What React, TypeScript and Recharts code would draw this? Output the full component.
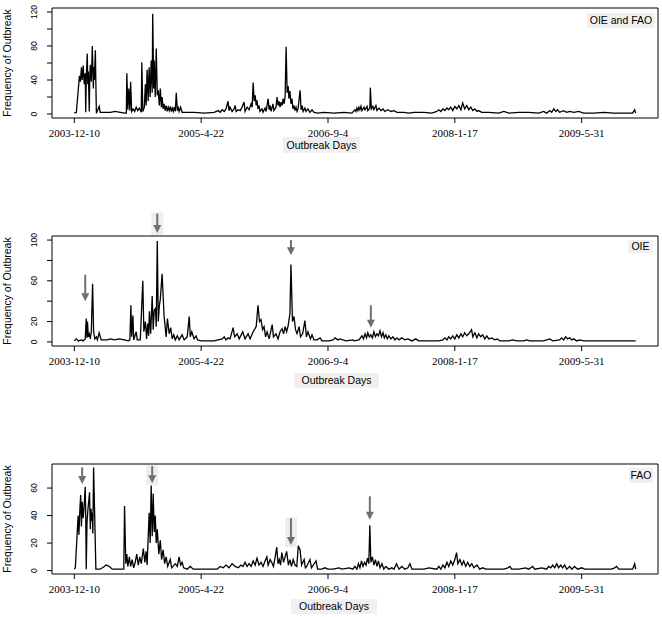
import React from 'react';
import { LineChart, Line, XAxis, YAxis, ReferenceArea, ReferenceLine, Customized } from 'recharts';

// day index since 2003-12-10, daily outbreak counts
const bothDays = [0, 8, 16, 20, 24, 28, 31, 35, 39, 43, 45, 47, 51, 53, 55, 59, 61, 63, 67, 71, 75, 77, 79, 83, 85, 87, 98, 102, 142, 161, 181, 201, 205, 207, 211, 215, 219, 222, 226, 232, 238, 244, 250, 256, 264, 266, 270, 276, 280, 283, 287, 291, 295, 299, 303, 307, 309, 313, 315, 319, 323, 327, 331, 335, 339, 343, 346, 350, 354, 358, 362, 366, 370, 374, 378, 382, 386, 390, 394, 398, 402, 406, 409, 413, 419, 425, 433, 472, 512, 551, 567, 575, 583, 591, 598, 606, 610, 614, 622, 630, 634, 638, 646, 654, 661, 669, 673, 681, 689, 697, 701, 705, 709, 713, 717, 720, 724, 728, 732, 740, 744, 752, 756, 764, 768, 772, 776, 783, 787, 795, 799, 803, 807, 811, 815, 819, 823, 827, 831, 835, 839, 843, 846, 850, 854, 858, 862, 866, 870, 874, 878, 882, 890, 894, 898, 902, 909, 913, 921, 929, 937, 945, 961, 984, 1024, 1063, 1094, 1106, 1110, 1114, 1118, 1122, 1126, 1130, 1134, 1142, 1146, 1154, 1157, 1165, 1167, 1171, 1177, 1181, 1189, 1193, 1201, 1209, 1217, 1224, 1236, 1248, 1260, 1272, 1299, 1319, 1339, 1378, 1409, 1429, 1437, 1445, 1453, 1461, 1469, 1476, 1484, 1492, 1500, 1508, 1516, 1524, 1531, 1539, 1547, 1555, 1563, 1571, 1579, 1587, 1594, 1606, 1634, 1673, 1693, 1713, 1752, 1791, 1831, 1850, 1862, 1874, 1882, 1890, 1898, 1905, 1913, 1929, 1941, 1953, 1969, 1988, 2008, 2047, 2087, 2126, 2165, 2201, 2209, 2213];
const bothCounts = [1, 2, 30, 45, 38, 55, 40, 57, 35, 48, 2, 40, 71, 35, 50, 3, 45, 58, 38, 80, 30, 55, 40, 75, 35, 1, 9, 2, 2, 3, 2, 1, 1, 48, 5, 30, 4, 38, 3, 6, 3, 8, 4, 7, 2, 61, 3, 8, 35, 10, 52, 15, 55, 20, 63, 25, 118, 30, 63, 20, 77, 22, 28, 10, 30, 8, 20, 6, 12, 4, 10, 3, 8, 4, 9, 3, 7, 3, 8, 3, 25, 4, 9, 3, 8, 2, 2, 2, 1, 2, 4, 2, 5, 3, 6, 15, 4, 8, 3, 6, 10, 3, 5, 4, 8, 14, 3, 8, 5, 12, 8, 37, 15, 22, 10, 16, 6, 10, 3, 6, 2, 7, 3, 18, 5, 10, 3, 12, 4, 8, 20, 10, 15, 8, 14, 10, 18, 12, 20, 79, 25, 33, 18, 27, 12, 18, 6, 10, 4, 8, 3, 6, 28, 5, 10, 3, 7, 3, 6, 2, 5, 2, 1, 2, 1, 2, 1, 5, 3, 7, 4, 8, 5, 9, 4, 8, 5, 9, 4, 7, 31, 6, 9, 5, 10, 4, 7, 4, 6, 3, 5, 3, 4, 2, 2, 1, 2, 2, 1, 3, 5, 3, 6, 4, 7, 5, 8, 4, 9, 6, 10, 5, 13, 6, 10, 5, 8, 4, 6, 3, 4, 2, 2, 1, 3, 1, 2, 2, 1, 3, 1, 4, 2, 6, 3, 5, 2, 4, 2, 3, 2, 3, 1, 1, 2, 1, 1, 1, 5, 1];

const oieDays = [0, 8, 16, 28, 35, 43, 47, 50, 52, 55, 59, 63, 67, 72, 76, 81, 87, 91, 98, 106, 130, 142, 157, 177, 197, 213, 219, 223, 226, 231, 234, 244, 248, 260, 270, 274, 280, 285, 289, 293, 296, 301, 307, 311, 315, 320, 323, 327, 331, 335, 339, 346, 354, 362, 367, 374, 380, 386, 392, 398, 406, 413, 425, 433, 445, 453, 457, 463, 472, 480, 486, 500, 551, 583, 591, 598, 606, 614, 626, 632, 642, 650, 664, 673, 685, 693, 705, 717, 724, 730, 736, 742, 748, 754, 760, 768, 780, 785, 795, 803, 811, 819, 825, 831, 837, 843, 850, 854, 860, 866, 872, 878, 886, 892, 900, 909, 915, 921, 931, 937, 945, 957, 969, 976, 1004, 1020, 1028, 1039, 1047, 1071, 1098, 1102, 1122, 1134, 1140, 1146, 1152, 1157, 1163, 1169, 1175, 1181, 1187, 1193, 1199, 1205, 1211, 1217, 1222, 1228, 1234, 1240, 1248, 1256, 1264, 1272, 1280, 1291, 1303, 1315, 1331, 1346, 1358, 1398, 1437, 1453, 1461, 1469, 1476, 1484, 1492, 1500, 1508, 1516, 1524, 1531, 1539, 1547, 1555, 1566, 1571, 1579, 1587, 1594, 1602, 1610, 1618, 1626, 1634, 1646, 1657, 1669, 1677, 1713, 1728, 1744, 1772, 1783, 1795, 1850, 1874, 1886, 1913, 1921, 1929, 1937, 1945, 1953, 1961, 1969, 1980, 1992, 2008, 2087, 2213];
const oieCounts = [1, 3, 1, 2, 1, 3, 23, 4, 20, 5, 8, 3, 10, 57, 10, 3, 5, 2, 9, 2, 2, 3, 2, 3, 2, 1, 2, 36, 5, 26, 2, 10, 2, 2, 60, 10, 20, 3, 18, 6, 30, 8, 45, 12, 31, 33, 15, 99, 20, 35, 42, 67, 25, 5, 23, 8, 14, 3, 7, 2, 6, 2, 7, 2, 5, 25, 5, 10, 3, 6, 2, 1, 1, 3, 5, 2, 4, 3, 14, 5, 8, 3, 10, 3, 8, 3, 10, 15, 36, 20, 22, 12, 15, 5, 10, 3, 17, 5, 8, 3, 10, 13, 8, 15, 10, 16, 28, 76, 20, 25, 12, 8, 15, 5, 8, 21, 5, 10, 3, 7, 2, 2, 4, 1, 1, 2, 4, 2, 3, 1, 2, 1, 2, 6, 3, 8, 4, 9, 5, 7, 4, 10, 5, 8, 6, 11, 5, 9, 4, 7, 3, 6, 3, 5, 2, 4, 2, 4, 2, 3, 1, 3, 1, 1, 1, 2, 4, 2, 5, 3, 6, 3, 7, 4, 8, 5, 9, 6, 8, 12, 5, 9, 4, 8, 5, 7, 3, 6, 3, 4, 2, 3, 1, 1, 2, 1, 1, 2, 1, 1, 3, 1, 2, 4, 2, 5, 3, 4, 2, 3, 1, 2, 1, 1, 1];

const faoDays = [0, 4, 15, 18, 22, 25, 28, 31, 35, 39, 43, 45, 47, 50, 53, 57, 60, 63, 66, 69, 71, 73, 76, 85, 91, 102, 118, 126, 138, 150, 177, 195, 198, 203, 207, 211, 217, 222, 228, 234, 240, 246, 252, 258, 264, 272, 278, 283, 287, 295, 299, 303, 307, 311, 315, 319, 323, 327, 333, 339, 344, 350, 356, 362, 368, 378, 384, 398, 406, 413, 419, 425, 431, 445, 457, 469, 563, 575, 587, 598, 610, 622, 634, 646, 657, 665, 673, 681, 689, 697, 705, 713, 720, 728, 736, 744, 752, 759, 764, 772, 778, 785, 791, 798, 803, 808, 813, 818, 825, 831, 837, 844, 850, 856, 863, 870, 877, 883, 890, 896, 906, 911, 916, 929, 935, 953, 959, 976, 988, 1000, 1020, 1043, 1055, 1083, 1098, 1106, 1114, 1120, 1126, 1132, 1138, 1144, 1150, 1156, 1161, 1165, 1169, 1175, 1181, 1187, 1193, 1199, 1205, 1213, 1220, 1228, 1240, 1252, 1260, 1270, 1280, 1291, 1303, 1315, 1323, 1331, 1350, 1378, 1398, 1429, 1437, 1445, 1453, 1461, 1469, 1476, 1484, 1492, 1500, 1507, 1512, 1520, 1528, 1535, 1543, 1551, 1559, 1567, 1575, 1587, 1598, 1610, 1622, 1654, 1693, 1709, 1717, 1724, 1752, 1780, 1791, 1807, 1815, 1843, 1862, 1870, 1878, 1886, 1894, 1902, 1909, 1917, 1925, 1933, 1941, 1953, 1961, 1972, 1984, 2000, 2012, 2047, 2118, 2130, 2138, 2146, 2185, 2201, 2209, 2213];
const faoCounts = [1, 2, 40, 26, 45, 55, 32, 50, 38, 48, 61, 40, 1, 35, 43, 51, 57, 30, 45, 36, 42, 27, 75, 1, 1, 1, 3, 4, 3, 1, 1, 1, 47, 5, 12, 3, 10, 3, 8, 2, 6, 12, 4, 10, 5, 16, 6, 14, 4, 42, 20, 62, 25, 56, 28, 40, 20, 30, 12, 22, 8, 15, 5, 10, 3, 8, 2, 5, 3, 10, 4, 6, 2, 1, 3, 1, 1, 3, 2, 4, 2, 5, 3, 2, 4, 3, 6, 3, 5, 3, 7, 4, 9, 4, 6, 3, 7, 10, 4, 8, 6, 3, 9, 17, 5, 8, 4, 13, 6, 10, 14, 4, 8, 3, 8, 4, 3, 18, 15, 4, 8, 2, 3, 8, 2, 7, 1, 1, 2, 1, 1, 2, 1, 2, 1, 3, 1, 5, 2, 7, 3, 6, 4, 9, 5, 33, 6, 10, 4, 8, 3, 7, 2, 5, 1, 3, 1, 2, 1, 5, 1, 3, 1, 2, 5, 1, 1, 1, 2, 1, 3, 1, 4, 2, 6, 3, 7, 4, 8, 13, 5, 8, 4, 7, 3, 6, 3, 5, 2, 4, 1, 2, 1, 1, 1, 2, 3, 1, 1, 2, 1, 3, 1, 2, 1, 3, 2, 4, 2, 5, 2, 4, 2, 4, 1, 3, 1, 3, 1, 2, 1, 1, 1, 2, 3, 1, 1, 1, 5, 1];

const dateTicks = [0, 500, 1000, 1500, 2000];
const dateLabels = ['2003-12-10', '2005-4-22', '2006-9-4', '2008-1-17', '2009-5-31'];

// arrows marking outbreak waves: day, tail value, tip value, shaded background
const oieArrowDays = [43, 327, 854, 1169];
const oieArrowTails = [66, 126, 100, 36];
const oieArrowTips = [40, 107, 85, 14];
const oieArrowShaded = [false, true, false, false];
const faoArrowDays = [31, 307, 854, 1165];
const faoArrowTails = [75, 76, 38, 54];
const faoArrowTips = [63, 63.5, 18.6, 37];
const faoArrowShaded = [false, true, true, false];

const X_DOMAIN = [-88, 2301];
const SANS = 'Liberation Sans, Arial, sans-serif';
const SERIF = 'Liberation Serif, Times New Roman, serif';

const XTick = (props: any) => {
    const { x, y, payload } = props;
    const i = dateTicks.indexOf(payload.value);
    return (
        <text x={x} y={y + 12} textAnchor="middle" fontSize={11} fontFamily={SERIF} fill="#000">
            {dateLabels[i]}
        </text>
    );
};

const makeYTick = (shown: number[]) => (props: any) => {
    const { y, payload } = props;
    if (!shown.includes(payload.value)) return <g />;
    return (
        <text x={37} y={y} transform={`rotate(-90, 37, ${y})`} textAnchor="middle" fontSize={8.5} fontFamily={SANS} fill="#000">
            {payload.value}
        </text>
    );
};

const Arrow = (props: any) => {
    const { x1, y1, x2, y2, shaded } = props;
    return (
        <g>
            {shaded && <rect x={x2 - 6} y={y1 - 1} width={12} height={y2 - y1 + 3} fill="#eeeeee" />}
            <line x1={x1} y1={y1} x2={x2} y2={y2 - 5} stroke="#6f6f6f" strokeWidth={2} />
            <polygon points={`${x2},${y2} ${x2 - 4},${y2 - 8} ${x2 + 4},${y2 - 8}`} fill="#6f6f6f" />
        </g>
    );
};

interface PanelProps {
    top: number;
    height: number;
    marginTop: number;
    days: number[];
    counts: number[];
    yDomain: number[];
    yTicks: number[];
    yShown: number[];
    tag: string;
    tagBox: number[];
    titleBox: number[];
    arrowDays?: number[];
    arrowTails?: number[];
    arrowTips?: number[];
    arrowShaded?: boolean[];
}

function Panel(p: PanelProps) {
    const data = p.days.map((day, i) => ({ day, count: p.counts[i] }));
    const plotMid = p.marginTop + 55;
    const [tx, ty, tw, th] = p.tagBox;
    const [bx, by, bw, bh] = p.titleBox;
    return (
        <div style={{ position: 'absolute', left: 0, top: p.top }}>
            <LineChart width={662} height={p.height} data={data}
                margin={{ top: p.marginTop, right: 4, left: 0, bottom: p.height - p.marginTop - 110 - 30 }}>
                <XAxis dataKey="day" type="number" domain={X_DOMAIN} ticks={dateTicks} interval={0}
                    allowDataOverflow axisLine={false} tickSize={5} tickLine={{ stroke: '#000' }}
                    tick={<XTick />} height={30} />
                <YAxis type="number" domain={p.yDomain} ticks={p.yTicks} interval={0} allowDataOverflow
                    width={52} axisLine={false} tickSize={5} tickLine={{ stroke: '#000' }} tick={makeYTick(p.yShown)} />
                <ReferenceArea x1={X_DOMAIN[0]} x2={X_DOMAIN[1]} y1={p.yDomain[0]} y2={p.yDomain[1]}
                    fill="none" stroke="#000" strokeWidth={1} ifOverflow="visible" />
                <Line type="linear" dataKey="count" stroke="#000" strokeWidth={1.3} dot={false} isAnimationActive={false} />
                {(p.arrowDays || []).map((d, i) => (
                    <ReferenceLine key={i} ifOverflow="visible"
                        segment={[{ x: d, y: p.arrowTails![i] }, { x: d, y: p.arrowTips![i] }]}
                        shape={(sp: any) => <Arrow {...sp} shaded={p.arrowShaded![i]} />} />
                ))}
                <Customized component={() => (
                    <g>
                        <text x={11} y={plotMid} transform={`rotate(-90, 11, ${plotMid})`} textAnchor="middle"
                            fontSize={10.5} fontFamily={SANS} fill="#000">Frequency of Outbreak</text>
                        <rect x={tx} y={ty} width={tw} height={th} fill="#f0f0f0" />
                        <text x={tx + tw / 2} y={ty + th / 2 + 3.8} textAnchor="middle" fontSize={10.5} fontFamily={SANS} fill="#000">{p.tag}</text>
                        <rect x={bx} y={by} width={bw} height={bh} fill="#f0f0f0" />
                        <text x={bx + bw / 2} y={by + bh / 2 + 3.8} textAnchor="middle" fontSize={10.5} fontFamily={SANS} fill="#000">Outbreak Days</text>
                    </g>
                )} />
            </LineChart>
        </div>
    );
}

export default function App() {
    return (
        <div style={{ position: 'absolute', left: 0, top: 0, width: 662, height: 617, background: '#fff' }}>
            <Panel top={0} height={160} marginTop={8} days={bothDays} counts={bothCounts}
                yDomain={[-4.7, 124.7]} yTicks={[0, 20, 40, 60, 80, 100, 120]} yShown={[0, 40, 80, 120]}
                tag="OIE and FAO" tagBox={[587, 13, 68, 15]} titleBox={[283, 137, 77, 16]} />
            <Panel top={200} height={195} marginTop={36} days={oieDays} counts={oieCounts}
                yDomain={[-4, 104]} yTicks={[0, 20, 40, 60, 80, 100]} yShown={[0, 20, 60, 100]}
                tag="OIE" tagBox={[628, 40, 25, 13]} titleBox={[294, 173, 85, 15]}
                arrowDays={oieArrowDays} arrowTails={oieArrowTails} arrowTips={oieArrowTips} arrowShaded={oieArrowShaded} />
            <Panel top={430} height={187} marginTop={34} days={faoDays} counts={faoCounts}
                yDomain={[-2.5, 77.5]} yTicks={[0, 20, 40, 60]} yShown={[0, 20, 40, 60]}
                tag="FAO" tagBox={[629, 38, 24, 15]} titleBox={[291, 169, 86, 15]}
                arrowDays={faoArrowDays} arrowTails={faoArrowTails} arrowTips={faoArrowTips} arrowShaded={faoArrowShaded} />
        </div>
    );
}
